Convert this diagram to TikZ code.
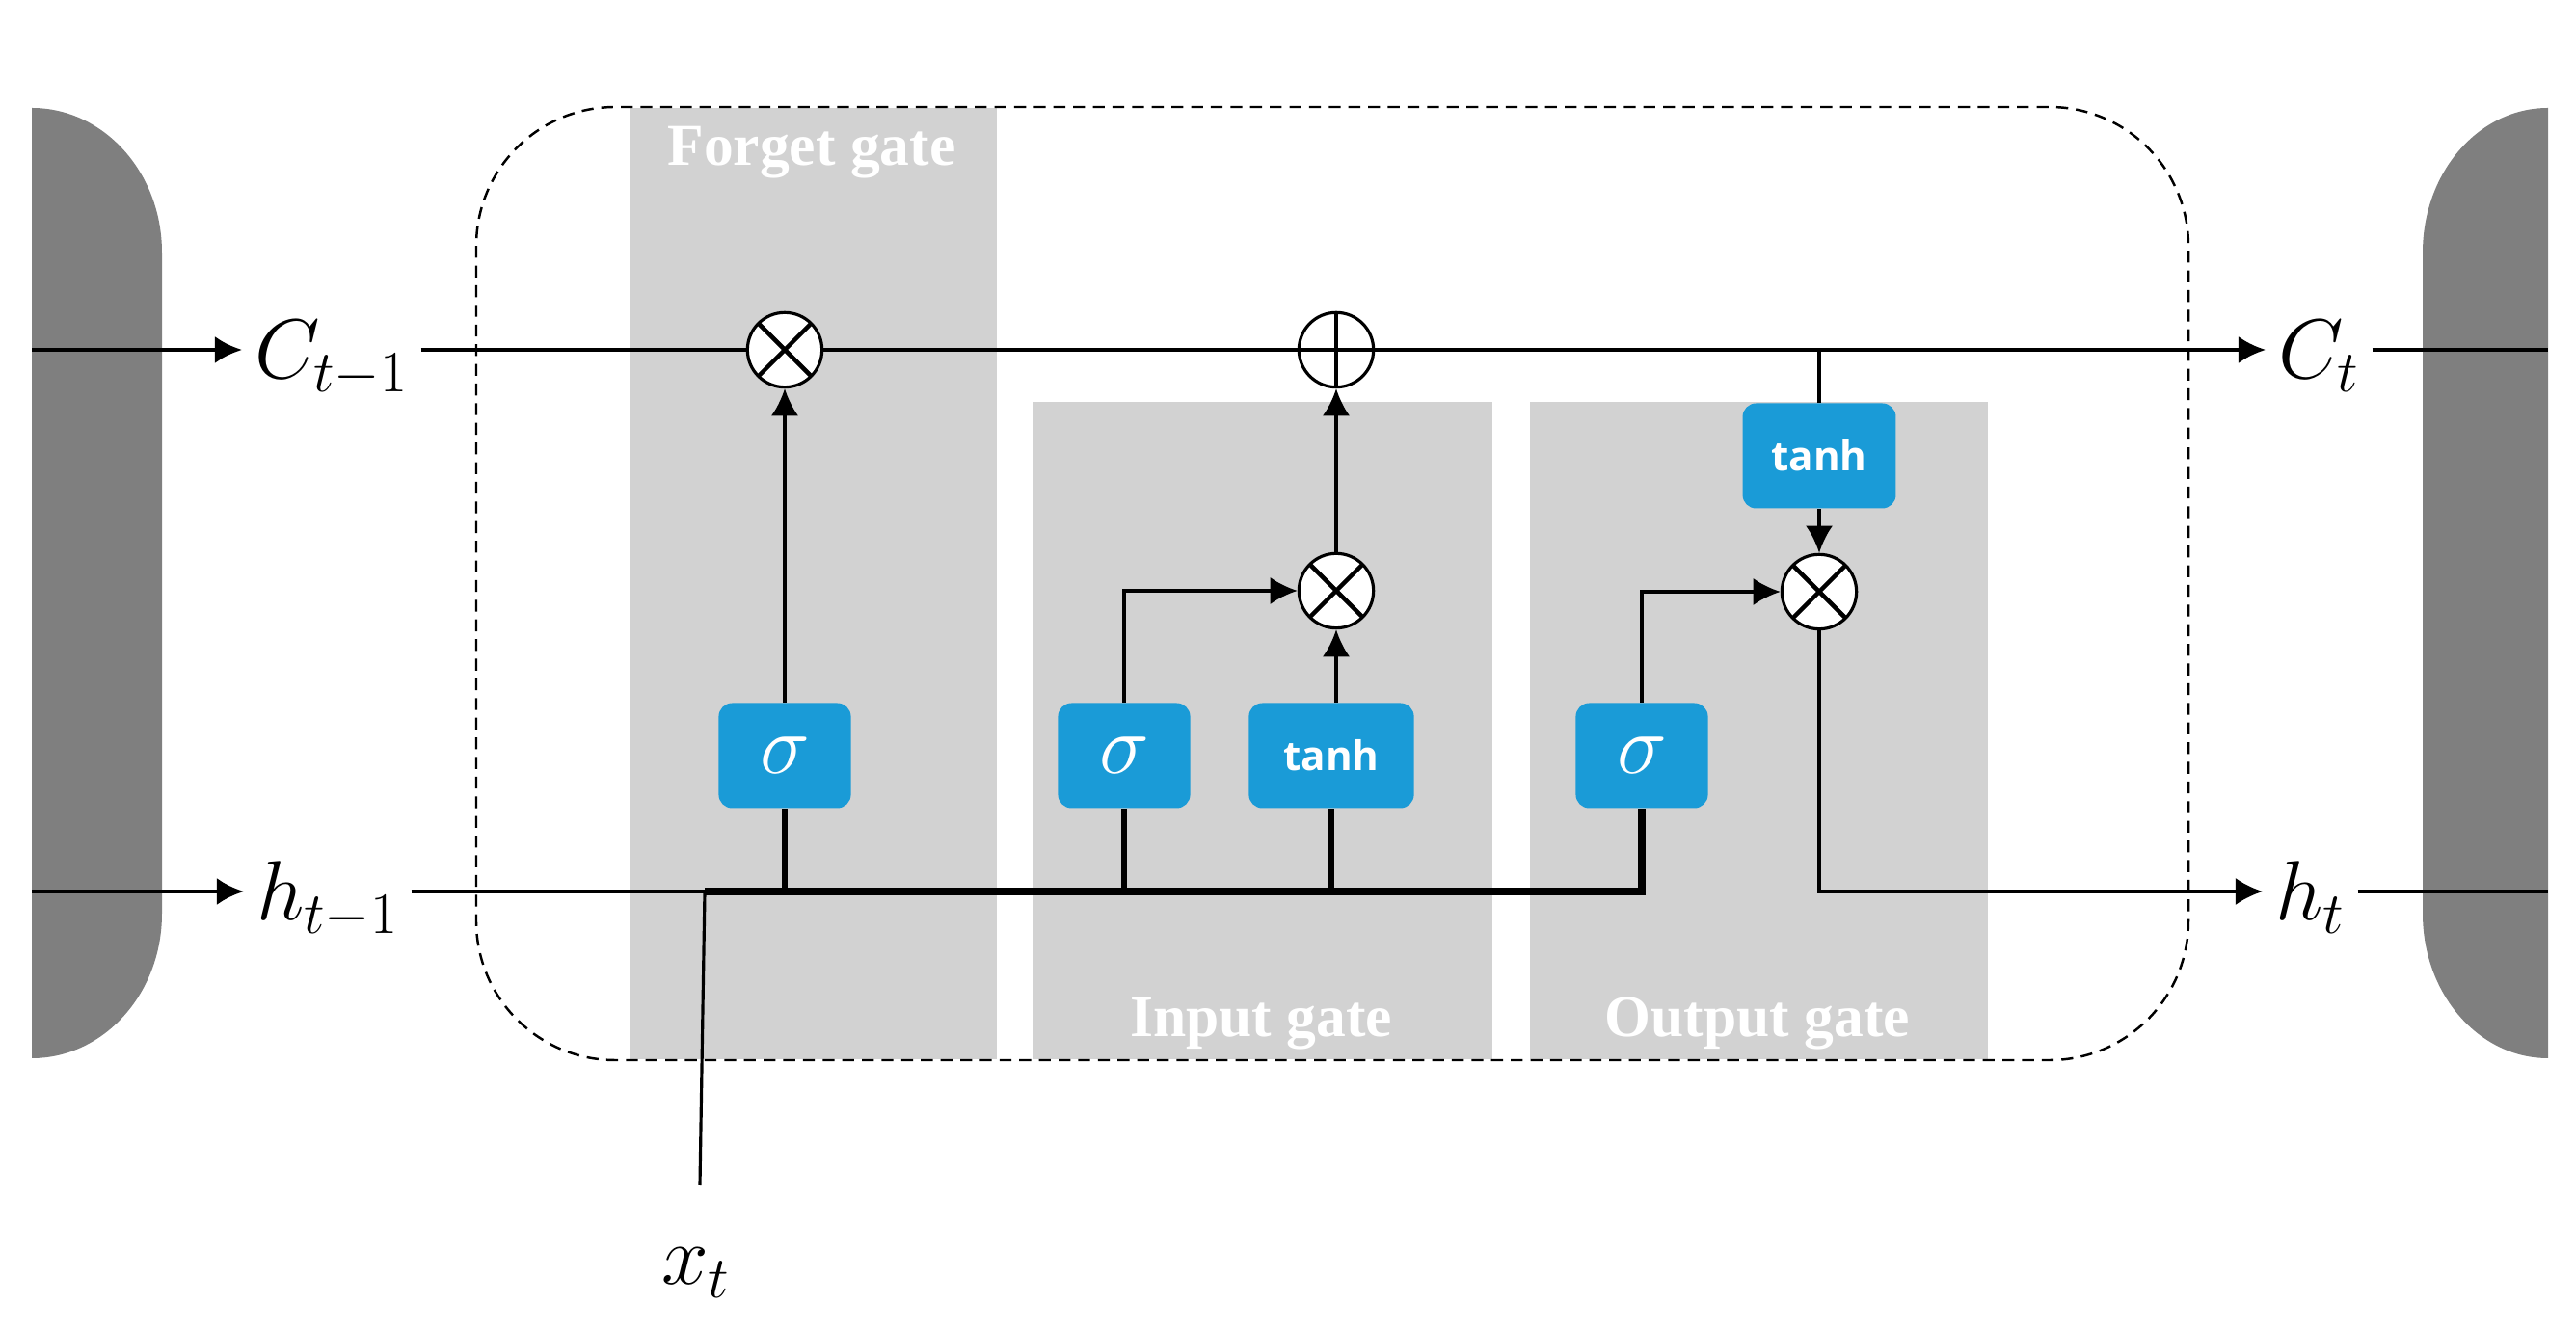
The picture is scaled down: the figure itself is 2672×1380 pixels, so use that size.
\documentclass[tikz,border=0pt]{standalone}
\usepackage{fontspec}
\newfontfamily\actfont{Open Sans}
\newfontfamily\gatefont{Liberation Serif}
\usetikzlibrary{arrows.meta}
\definecolor{cellgray}{HTML}{7F7F7F}
\definecolor{gategray}{HTML}{D2D2D2}
\definecolor{lstmblue}{HTML}{1A9BD7}
\tikzset{
  actbox/.style={rectangle, rounded corners=4pt, fill=lstmblue, text=white, minimum height=31pt, inner sep=0pt},
  sigbox/.style={actbox, minimum width=39pt, font=\fontsize{24}{28}\selectfont},
  tanhbox/.style={actbox, font=\actfont\bfseries\fontsize{12}{14}\selectfont},
  opcirc/.style={circle, draw, line width=0.9pt, fill=white, minimum size=22pt, inner sep=0pt},
  mulop/.style={opcirc, path picture={\draw[line width=1.3pt] (path picture bounding box.north west) -- (path picture bounding box.south east) (path picture bounding box.north east) -- (path picture bounding box.south west);}},
  addop/.style={opcirc, path picture={\draw[line width=1.3pt] (path picture bounding box.north) -- (path picture bounding box.south) (path picture bounding box.west) -- (path picture bounding box.east);}},
  statelbl/.style={font=\fontsize{25}{30}\selectfont, inner xsep=3.5pt, inner ysep=0pt, text height=17pt, text depth=0pt},
  gatelbl/.style={text=white, font=\gatefont\bfseries\fontsize{17.5}{20}\selectfont},
  flow/.style={line width=0.9pt},
  arr/.style={flow, -{Latex[length=8pt,width=8pt]}},
}
\begin{document}
\begin{tikzpicture}[x=0.01cm, y=-0.01cm]
    \useasboundingbox (0,0) rectangle (2672,1380);

    % Neighbouring cells
    \fill[cellgray] (33,112) .. controls (107.5,112) and (168,179) .. (168,262) -- (168,948) .. controls (168,1031) and (107.5,1098) .. (33,1098) -- cycle;
    \fill[cellgray] (2643,112) .. controls (2571,112) and (2513,179) .. (2513,262) -- (2513,948) .. controls (2513,1031) and (2571,1098) .. (2643,1098) -- cycle;

    % Gate regions
    \fill[gategray] (653,112) rectangle (1034,1099);
    \fill[gategray] (1072,417) rectangle (1548,1099);
    \fill[gategray] (1587,417) rectangle (2062,1099);
    \node[gatelbl] (flbl) at (842,158) {Forget gate};
    \node[gatelbl] (ilbl) at (1308,1062) {Input gate};
    \node[gatelbl] (olbl) at (1823,1062) {Output gate};

    % Cell boundary
    \draw[line width=0.7pt, dash pattern=on 3.5pt off 2.3pt, rounded corners=41pt] (494,111) rectangle (2270,1100);

    % Pointwise operations
    \node[mulop] (fmul) at (814,363) {};
    \node[addop] (add) at (1386,363) {};
    \node[mulop] (imul) at (1386,613) {};
    \node[mulop] (omul) at (1887,614) {};

    % Activations
    \node[sigbox] (fsig) at (814,784) {$\sigma$};
    \node[sigbox] (isig) at (1166,784) {$\sigma$};
    \node[tanhbox, minimum width=48.7pt] (itanh) at (1381,784) {tanh};
    \node[sigbox] (osig) at (1703,784) {$\sigma$};
    \node[tanhbox, minimum width=45.2pt] (otanh) at (1887,473) {tanh};

    % States
    \node[statelbl, anchor=west] (cprev) at (251,363) {$C_{t-1}$};
    \node[statelbl, anchor=west] (hprev) at (253,925) {$h_{t-1}$};
    \node[statelbl, anchor=west] (cnext) at (2350,363) {$C_t$};
    \node[statelbl, anchor=west] (hnext) at (2347,925) {$h_t$};
    \node[statelbl] (xin) at (722,1303) {$x_t$};

    \coordinate (cin) at (33,363);
    \coordinate (cout) at (2643,363);
    \coordinate (hin) at (33,925);
    \coordinate (hout) at (2643,925);
    \coordinate (xjoin) at (731,925);
    \coordinate (xfoot) at (726,1230);
    \coordinate (ctap) at (1887,363);
    \coordinate (busend) at (1703,925);

    % Cell state line
    \draw[arr, line width=1.2pt] (cin) -- (cprev.west);
    \draw[line width=1.2pt] (cprev.east) -- (fmul.west);
    \draw[line width=1.2pt] (fmul.east) -- (add.west);
    \draw[arr, line width=1.2pt] (add.east) -- (cnext.west);
    \draw[line width=1.2pt] (cnext.east) -- (cout);

    % Hidden state and input
    \draw[arr, line width=1.2pt] (hin) -- (hprev.west);
    \draw[line width=1.2pt] (hprev.east) -- (xjoin);
    \draw[flow] (xfoot) -- (xjoin);
    \draw[line width=2.2pt] (xjoin) -- (busend) -- (osig.south);
    \draw[line width=1.6pt] (fsig.south) -- (fsig.south |- xjoin);
    \draw[line width=1.6pt] (isig.south) -- (isig.south |- xjoin);
    \draw[line width=1.6pt] (itanh.south) -- (itanh.south |- xjoin);

    % Gate connections
    \draw[arr] (fsig.north) -- (fmul.south);
    \draw[arr] (isig.north) |- (imul.west);
    \draw[arr] (imul |- itanh.north) -- (imul.south);
    \draw[arr] (imul.north) -- (add.south);
    \draw[arr] (osig.north) |- (omul.west);
    \draw[flow] (ctap) -- (otanh.north);
    \draw[arr] (otanh.south) -- (omul.north);
    \draw[arr] (omul.south) |- (hnext.west);
    \draw[line width=1.2pt] (hnext.east) -- (hout);
\end{tikzpicture}
\end{document}
